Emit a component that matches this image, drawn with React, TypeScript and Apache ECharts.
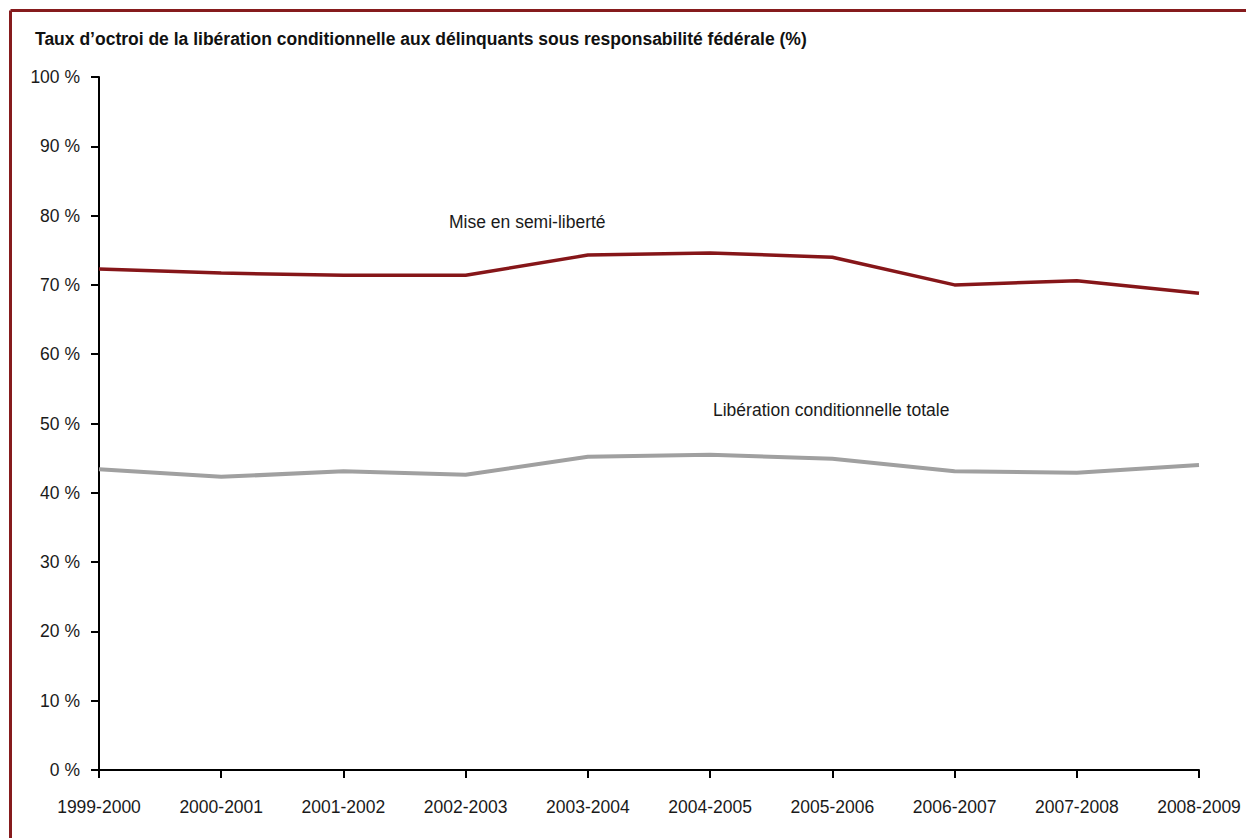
import React, { useEffect, useRef } from "react";
import * as echarts from "echarts";

const categories = [
  "1999-2000", "2000-2001", "2001-2002", "2002-2003", "2003-2004",
  "2004-2005", "2005-2006", "2006-2007", "2007-2008", "2008-2009",
];
const semiLiberte = [72.3, 71.7, 71.4, 71.4, 74.3, 74.6, 74.0, 70.0, 70.6, 68.8];
const totale = [43.4, 42.3, 43.1, 42.6, 45.2, 45.5, 44.9, 43.1, 42.9, 44.0];
const yTicks = { min: 0, max: 100, interval: 10 };
const titleText = "Taux d’octroi de la libération conditionnelle aux délinquants sous responsabilité fédérale (%)";
const labelSemi = "Mise en semi-liberté";
const labelTotale = "Libération conditionnelle totale";

const FONT = "'Liberation Sans Narrow', 'Arial Narrow', 'Liberation Sans', Arial, sans-serif";
const RED = "#861619";
const GRAY = "#a0a0a0";
const BORDER = "#861b1d";

export default function App() {
  const ref = useRef<HTMLDivElement>(null);
  useEffect(() => {
    if (!ref.current) return;
    const chart = echarts.init(ref.current, null, { renderer: "svg" });
    chart.setOption({
      animation: false,
      backgroundColor: "#ffffff",
      textStyle: { fontFamily: FONT },
      grid: { left: 99, right: 47, top: 77, bottom: 68, containLabel: false },
      xAxis: {
        type: "category",
        data: categories,
        boundaryGap: false,
        axisLine: { lineStyle: { color: "#000", width: 2 } },
        axisTick: { show: true, length: 8, interval: 0, lineStyle: { color: "#000", width: 2 } },
        axisLabel: { color: "#1a1a1a", fontSize: 17.5, fontFamily: FONT, margin: 28, interval: 0 },
        splitLine: { show: false },
      },
      yAxis: {
        type: "value",
        min: yTicks.min,
        max: yTicks.max,
        interval: yTicks.interval,
        axisLine: { show: true, lineStyle: { color: "#000", width: 2 } },
        axisTick: { show: true, length: 8, lineStyle: { color: "#000", width: 2 } },
        axisLabel: { color: "#1a1a1a", fontSize: 17.5, fontFamily: FONT, margin: 19, formatter: "{value} %" },
        splitLine: { show: false },
      },
      series: [
        {
          name: labelSemi,
          type: "line",
          data: semiLiberte,
          symbol: "none",
          lineStyle: { color: RED, width: 3.5 },
          z: 3,
        },
        {
          name: labelTotale,
          type: "line",
          data: totale,
          symbol: "none",
          lineStyle: { color: GRAY, width: 4 },
          z: 3,
        },
      ],
      graphic: [
        { type: "line", shape: { x1: 10.5, y1: 10.5, x2: 1246, y2: 10.5 }, style: { stroke: BORDER, lineWidth: 3 } },
        { type: "line", shape: { x1: 10.5, y1: 10.5, x2: 10.5, y2: 838 }, style: { stroke: BORDER, lineWidth: 3 } },
        {
          type: "text", left: 35, top: 30,
          style: { text: titleText, fontSize: 17.5, fontWeight: "bold", fontFamily: FONT, fill: "#111" },
        },
        {
          type: "text", left: 449, top: 213,
          style: { text: labelSemi, fontSize: 17.5, fontFamily: FONT, fill: "#1a1a1a" },
        },
        {
          type: "text", left: 713, top: 401,
          style: { text: labelTotale, fontSize: 17.5, fontFamily: FONT, fill: "#1a1a1a" },
        },
      ],
    });
    return () => chart.dispose();
  }, []);
  return (
    <div
      ref={ref}
      style={{ position: "fixed", left: 0, top: 0, width: 1246, height: 838 }}
    />
  );
}
